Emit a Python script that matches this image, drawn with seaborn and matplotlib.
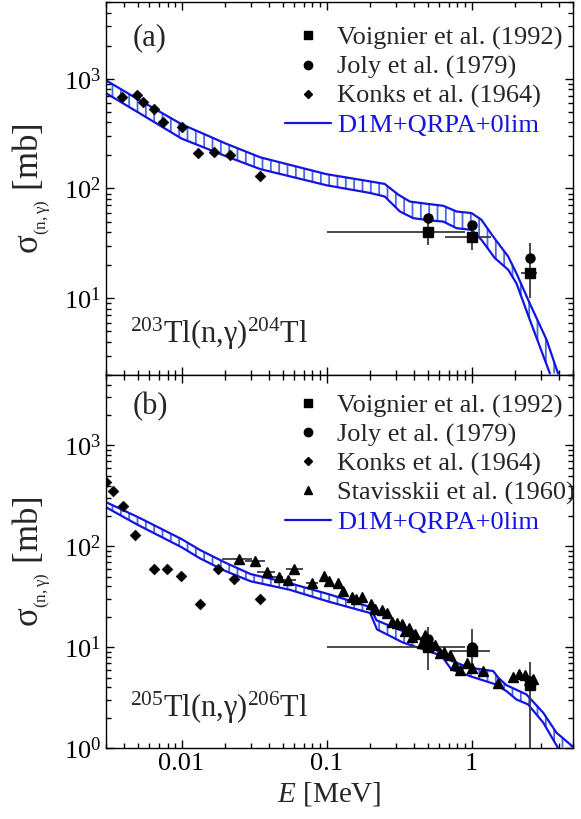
import numpy as np
import matplotlib
matplotlib.use('Agg')
import matplotlib.pyplot as plt
import seaborn as sns
import pandas as pd
from matplotlib.lines import Line2D
from matplotlib.ticker import FuncFormatter, LogLocator

# ---------------- panel (a): 203Tl(n,g)204Tl ----------------
a_up_E = [0.003, 0.005, 0.01, 0.02, 0.035, 0.1, 0.2, 0.252, 0.312, 0.376, 0.489, 0.637,
          0.789, 1.0, 1.17, 1.41, 1.79, 2.04, 2.52, 3.29, 3.95]
a_up_s = [970, 650, 385, 258, 192, 135, 116, 110, 88, 76, 72.6, 69.6,
          61.7, 59.7, 51.9, 36.5, 24, 16.9, 9.0, 4.2, 2.07]
a_lo_E = [0.003, 0.005, 0.01, 0.02, 0.035, 0.1, 0.2, 0.252, 0.321, 0.396, 0.516, 0.637,
          0.789, 1.0, 1.17, 1.45, 1.79, 2.04, 2.52, 3.47]
a_lo_s = [741, 495, 285, 198, 150, 107, 91, 84.5, 61.7, 53.7, 51.2, 50,
          43.5, 42, 34.1, 23.2, 18.2, 13.7, 6.4, 2.07]

a_konks_E = [0.00386, 0.0049, 0.00543, 0.00647, 0.00747, 0.0100, 0.0129, 0.0168, 0.0216, 0.0347]
a_konks_s = [681, 710, 608, 529, 400, 363, 211, 213, 201, 131]

a_voig_E = [0.5, 1.0, 2.52]
a_voig_s = [40.5, 36.5, 17.1]
a_voig_Elo = [0.1, 0.655, 2.21]
a_voig_Ehi = [0.9, 1.37, 2.81]
a_voig_slo = [30.7, 27.6, 10.0]
a_voig_shi = [52, 49, 31.6]

a_joly_E = [0.5, 1.0, 2.52]
a_joly_s = [53.7, 46.6, 23.2]

# ---------------- panel (b): 205Tl(n,g)206Tl ----------------
b_up_E = [0.003, 0.005, 0.01, 0.0134, 0.02, 0.03, 0.056, 0.105, 0.2, 0.221, 0.259, 0.337,
          0.44, 0.574, 0.637, 0.727, 0.973, 1.41, 1.53, 1.74, 2.39, 3.12, 3.85, 5.0]
b_up_s = [275, 195, 118, 92, 69, 53, 43, 33.3, 25, 18.5, 16.8, 14.4,
          12.4, 9.6, 8.9, 7.3, 6.25, 5.8, 4.98, 4.2, 3.4, 2.24, 1.42, 1.03]
b_lo_E = [0.003, 0.005, 0.01, 0.0134, 0.02, 0.03, 0.056, 0.105, 0.2, 0.223, 0.337, 0.489,
          0.621, 0.727, 1.0, 1.45, 1.74, 2.04, 2.45, 3.12, 3.95]
b_lo_s = [245, 163, 98, 76, 57, 45, 37, 28.1, 21.8, 15.0, 11.1, 9.3,
          8.2, 6.0, 5.1, 4.3, 3.67, 3.03, 2.71, 1.79, 1.0]

b_konks_E = [0.00299, 0.00337, 0.00395, 0.00474, 0.00647, 0.00792, 0.0099, 0.0134, 0.0179, 0.0230, 0.0347]
b_konks_s = [435, 351, 253, 131, 60, 60, 50.5, 27.1, 60, 47.5, 30.1]

b_voig_E = [0.5, 1.0, 2.52]
b_voig_s = [10.0, 9.2, 4.2]
b_voig_Elo = [0.1, 0.72, 2.3]
b_voig_Ehi = [0.9, 1.34, 2.8]
b_voig_slo = [6.0, 5.8, 0.01]
b_voig_shi = [15.8, 15.0, 7.1]

b_joly_E = [0.5, 1.0, 2.52]
b_joly_s = [12.0, 10.0, 4.6]

stav_E = [0.0249, 0.0321, 0.0389, 0.0469, 0.0543, 0.0598, 0.080, 0.0957, 0.104, 0.120, 0.130,
          0.151, 0.159, 0.177, 0.204, 0.215, 0.243, 0.262, 0.285, 0.304, 0.329, 0.347, 0.371,
          0.386, 0.406, 0.452, 0.476, 0.494, 0.559, 0.604, 0.644, 0.716, 0.767, 0.83, 0.924,
          1.0, 1.2, 1.53, 1.94, 2.13, 2.33, 2.66]
stav_s = [75.5, 71, 55.9, 49.3, 46.0, 59.7, 42.8, 50.5, 45.7, 43.4, 35.9,
          31.6, 29.7, 31.6, 27.1, 24, 23.6, 21.6, 17.7, 17.2, 16.8, 14.4, 15.6,
          12.7, 13.4, 11.1, 13.1, 11.9, 10.6, 8.8, 8.9, 8.3, 6.6, 6.0, 7.0,
          6.25, 5.8, 4.4, 5.1, 5.37, 5.25, 4.86]
# energy bins of the first seven points (the rest have no visible x bar)
stav_Elo = [0.0189, 0.0273, 0.0332, 0.0417, 0.0463, 0.0525, 0.0721]
stav_Ehi = [0.0304, 0.0376, 0.044, 0.0502, 0.062, 0.0683, 0.0877]

BLUE = '#1414e0'
HATCH = '#4a68e6'
ERR = '#3a3a3a'

sns.set_style('ticks')
plt.rcParams['font.family'] = ['Liberation Serif', 'DejaVu Serif']
plt.rcParams['mathtext.fontset'] = 'custom'
plt.rcParams['mathtext.rm'] = 'Liberation Serif'
plt.rcParams['mathtext.it'] = 'Liberation Serif:italic'
plt.rcParams['hatch.linewidth'] = 1.3
plt.rcParams['axes.linewidth'] = 1.0


def band(ax, up_E, up_s, lo_E, lo_s):
    poly_x = np.concatenate([up_E, lo_E[::-1]])
    poly_y = np.concatenate([up_s, lo_s[::-1]])
    ax.fill(poly_x, poly_y, facecolor='none', edgecolor=HATCH, linewidth=0, hatch='||')
    sns.lineplot(x=up_E, y=up_s, ax=ax, color=BLUE, lw=1.6, sort=False, estimator=None)
    sns.lineplot(x=lo_E, y=lo_s, ax=ax, color=BLUE, lw=1.6, sort=False, estimator=None)


def errpoints(ax, E, s, Elo, Ehi, slo, shi, marker, ms):
    E = np.array(E); s = np.array(s)
    xerr = [E - np.array(Elo), np.array(Ehi) - E]
    yerr = None
    if slo is not None:
        yerr = [s - np.array(slo), np.array(shi) - s]
    ax.errorbar(E, s, xerr=xerr, yerr=yerr, fmt=marker, color='black', ms=ms,
                ecolor=ERR, elinewidth=1.3, capsize=0, zorder=4)


def style(ax, ylim):
    ax.set_xscale('log')
    ax.set_yscale('log')
    ax.set_xlim(0.003, 5.0)
    ax.set_ylim(*ylim)
    ax.tick_params(which='both', direction='in', top=True, right=True, labelsize=19, width=1.0,
                   colors='black')
    ax.tick_params(which='major', length=6)
    ax.tick_params(which='minor', length=3.5)
    ax.yaxis.set_minor_locator(LogLocator(subs=np.arange(2, 10)))
    ax.xaxis.set_minor_locator(LogLocator(subs=np.arange(2, 10)))
    ax.xaxis.set_major_formatter(FuncFormatter(lambda v, p: f'{v:g}'))
    ax.set_ylabel(r'σ$_{_{\mathrm{(n,γ)}}}$ [mb]', fontsize=25, labelpad=8)
    for sp in ax.spines.values():
        sp.set_color('black')


def legend(ax, with_stav, top):
    handles = [Line2D([], [], marker='s', ls='none', color='k', ms=6),
               Line2D([], [], marker='o', ls='none', color='k', ms=6),
               Line2D([], [], marker='D', ls='none', color='k', ms=4)]
    labels = ['Voignier et al. (1992)', 'Joly et al. (1979)', 'Konks et al. (1964)']
    if with_stav:
        handles.append(Line2D([], [], marker='^', ls='none', color='k', ms=6))
        labels.append('Stavisskii et al. (1960)')
    handles.append(Line2D([], [], color=BLUE, lw=1.6))
    labels.append('D1M+QRPA+0lim')
    leg = ax.legend(handles, labels, loc='upper left', bbox_to_anchor=(0.383, top),
                    frameon=False, fontsize=19, borderpad=0, borderaxespad=0,
                    handlelength=1.75, handletextpad=0.25, labelspacing=0.2)
    leg.get_texts()[-1].set_color(BLUE)


fig = plt.figure(figsize=(5.81, 8.19), dpi=100)
ax_a = fig.add_axes([0.182, 0.5421, 0.804, 0.4555])
ax_b = fig.add_axes([0.182, 0.0867, 0.804, 0.4554])

# panel (a)
band(ax_a, np.array(a_up_E), np.array(a_up_s), np.array(a_lo_E), np.array(a_lo_s))
konks_a = pd.DataFrame({'E': a_konks_E, 's': a_konks_s})
sns.scatterplot(data=konks_a, x='E', y='s', ax=ax_a, marker='D', s=30, color='black',
                edgecolor='black', zorder=4)
errpoints(ax_a, a_voig_E, a_voig_s, a_voig_Elo, a_voig_Ehi, a_voig_slo, a_voig_shi, 's', 6.5)
ax_a.plot(a_joly_E, a_joly_s, 'o', color='black', ms=6.5, zorder=5)
style(ax_a, (2, 5000))
ax_a.tick_params(axis='x', labelbottom=False)
ax_a.set_xlabel('')
legend(ax_a, False, 0.935)
ax_a.text(0.058, 0.905, '(a)', transform=ax_a.transAxes, fontsize=22, va='center')
ax_a.text(0.052, 0.086, r'$^{203}$Tl(n,γ)$^{204}$Tl', transform=ax_a.transAxes,
          fontsize=22, va='baseline')

# panel (b)
band(ax_b, np.array(b_up_E), np.array(b_up_s), np.array(b_lo_E), np.array(b_lo_s))
konks_b = pd.DataFrame({'E': b_konks_E, 's': b_konks_s})
sns.scatterplot(data=konks_b, x='E', y='s', ax=ax_b, marker='D', s=30, color='black',
                edgecolor='black', zorder=4)
stav_lo = np.array(stav_E); stav_lo[:len(stav_Elo)] = stav_Elo
stav_hi = np.array(stav_E); stav_hi[:len(stav_Ehi)] = stav_Ehi
errpoints(ax_b, stav_E, stav_s, stav_lo, stav_hi, None, None, '^', 7)
errpoints(ax_b, b_voig_E, b_voig_s, b_voig_Elo, b_voig_Ehi, b_voig_slo, b_voig_shi, 's', 6.5)
ax_b.plot(b_joly_E, b_joly_s, 'o', color='black', ms=6.5, zorder=5)
style(ax_b, (1, 5000))
legend(ax_b, True, 0.95)
ax_b.set_xlabel(r'$\it{E}$ [MeV]', fontsize=21, labelpad=4)
ax_b.xaxis.set_label_coords(0.478, -0.085)
ax_b.text(0.058, 0.915, '(b)', transform=ax_b.transAxes, fontsize=22, va='center')
ax_b.text(0.052, 0.083, r'$^{205}$Tl(n,γ)$^{206}$Tl', transform=ax_b.transAxes,
          fontsize=22, va='baseline')

fig.savefig('out.png', dpi=100)
